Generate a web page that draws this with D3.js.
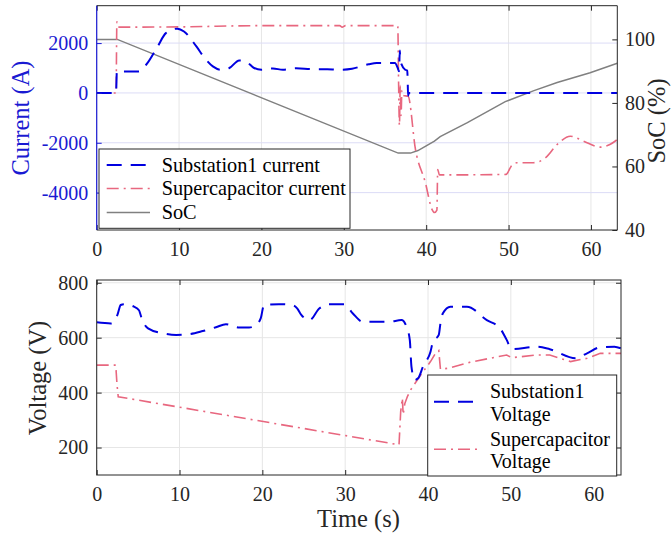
<!DOCTYPE html>
<html><head><meta charset="utf-8">
<script src="https://cdn.jsdelivr.net/npm/d3@7"></script>
<style>
body{margin:0;background:#fff}
svg{display:block}
svg text{font-family:"Liberation Serif","Times New Roman",serif !important}
</style>
</head><body>
<svg id="chart" width="671" height="539"></svg>
<script>
// ---------- data ----------
const timeTicks = [0, 10, 20, 30, 40, 50, 60];
const currentTicks = [-4000, -2000, 0, 2000];
const socTicks = [40, 60, 80, 100];
const voltageTicks = [200, 400, 600, 800];

// [time (s), current (A)]
const substationCurrent = [
  [0,0],[2.35,0],[2.45,864],[5.0,864],[6.0,1130],[7.4,1864],[8.4,2400],[9.8,2580],[10.6,2464],
  [12.1,1864],[13.1,1400],[14.1,1064],[15.1,930],[16.1,1000],[17.3,1304],[18.1,1264],[19.1,1000],
  [20,930],[21.4,980],[22.6,930],[24.2,990],[26,960],[28,950],[29.6,930],[31,970],[33,1150],[34,1200],
  [36.2,1200],[36.55,1000],[36.7,870],[36.8,1700],[36.85,1300],[37.45,930],[37.7,900],[37.75,530],
  [37.8,-110],[37.9,0],[63.2,0]
];
const supercapCurrent = [
  [0,0],[2.35,0],[2.45,2850],[2.6,2640],[10,2650],[20,2700],[29.5,2700],[29.8,2640],[30.2,2700],
  [36.55,2700],[36.65,400],[36.75,-1300],[36.85,300],[36.95,-900],[37.05,100],[37.2,-100],[37.8,-135],
  [38.7,-2270],[39.9,-3600],[40.7,-4670],[41.0,-4800],[41.3,-4700],[41.4,-3070],[41.6,-3290],
  [49.7,-3270],[50.3,-2950],[51,-2800],[53,-2800],[54.5,-2600],[55.9,-2070],[57.5,-1736],
  [59.1,-1936],[61.1,-2176],[62.3,-2070],[63.2,-1870]
];
// [time (s), SoC (%)]
const socValues = [
  [0,100],[2.5,100],[36.6,64.2],[38.1,64.2],[39,65.0],[40,66.5],[41,68.0],[41.7,69.4],[45,73.8],
  [49.6,80.4],[53,83.8],[55.9,86.4],[59.9,89.5],[63.2,92.5]
];
// [time (s), voltage (V)]
const substationVoltage = [
  [0,656],[1.7,652],[2.5,683],[2.9,719],[3.3,722],[4.5,713],[5.1,700],[5.5,664],[6.2,634],[8.0,616],
  [9.6,610],[11.2,613],[12.8,624],[14.4,638],[15.6,649],[17.2,637],[18.4,637],[19.2,646],[19.8,670],
  [20.2,719],[22.0,722],[23.6,719],[24.2,707],[24.7,683],[25.7,664],[26.9,707],[28.1,722],[29.9,722],
  [30.9,689],[32.1,658],[35.3,658],[36.8,664],[37.4,640],[37.8,592],[38.0,495],[38.4,446],[38.8,452],
  [39.4,495],[40.3,549],[40.6,585],[41.3,610],[41.5,652],[41.8,689],[42.7,713],[44.7,713],[47.1,664],
  [48.7,634],[49.5,592],[50.1,558],[53.1,567],[54.7,558],[57.8,525],[59.2,543],[60.8,565],[62.5,567],[63.3,561]
];
const supercapVoltage = [
  [0,500],[2.3,500],[2.45,430],[2.6,385],[36.5,210],[36.7,330],[36.9,380],[37.0,320],[37.2,360],
  [37.5,385],[37.9,410],[38.4,432],[39.4,476],[40.3,513],[40.9,543],[41.3,553],[41.5,485],[42.5,489],
  [45,510],[49.5,537],[50.1,527],[51,530],[53.1,537],[54.7,537],[57.2,513],[59.2,525],[60.8,543],[63.3,543]
];

// ---------- style ----------
const BLUE = "#0000e0", PINK = "#e8677f", GRAY = "#808080";
const AXIS = "#262626", AXBLUE = "#1a1ad2";
const GRIDG = "#e6e6e6", GRIDB = "#dcdcf6";
const SERIF = '"Liberation Serif","Times New Roman",serif';
const fmt = d => String(d);   // plain hyphen-minus like the reference

const svg = d3.select("#chart");

// ---------- top plot ----------
const T = {l:96.7, r:617.3, t:5.7, b:230};
const xT = d3.scaleLinear().domain([0,63.2]).range([T.l,T.r]);
const yC = d3.scaleLinear().domain([-5500,3500]).range([T.b,T.t]);
const yS = d3.scaleLinear().domain([40,110.6]).range([T.b,T.t]);

// ---------- bottom plot ----------
const B = {l:96.7, r:621, t:280, b:475};
const xB = d3.scaleLinear().domain([0,63.3]).range([B.l,B.r]);
const yV = d3.scaleLinear().domain([100,810]).range([B.b,B.t]);

function grid(g, P, xs, xticks, ys, yticks, hColor){
  g.selectAll(null).data(xticks).join("line")
    .attr("x1",d=>xs(d)).attr("x2",d=>xs(d)).attr("y1",P.t).attr("y2",P.b)
    .attr("stroke",GRIDG).attr("stroke-width",1);
  g.selectAll(null).data(yticks).join("line")
    .attr("x1",P.l).attr("x2",P.r).attr("y1",d=>ys(d)).attr("y2",d=>ys(d))
    .attr("stroke",hColor).attr("stroke-width",1);
}

const gTop = svg.append("g");
grid(gTop, T, xT, timeTicks, yC, currentTicks, GRIDB);
const gBot = svg.append("g");
grid(gBot, B, xB, timeTicks, yV, voltageTicks, GRIDG);

// clip paths
const defs = svg.append("defs");
defs.append("clipPath").attr("id","clipT").append("rect")
  .attr("x",T.l).attr("y",T.t).attr("width",T.r-T.l).attr("height",T.b-T.t);
defs.append("clipPath").attr("id","clipB").append("rect")
  .attr("x",B.l).attr("y",B.t).attr("width",B.r-B.l).attr("height",B.b-B.t);

const lineCur = d3.line().x(d=>xT(d[0])).y(d=>yC(d[1])).curve(d3.curveMonotoneX);
const lineSoc = d3.line().x(d=>xT(d[0])).y(d=>yS(d[1])).curve(d3.curveLinear);
const lineVol = d3.line().x(d=>xB(d[0])).y(d=>yV(d[1])).curve(d3.curveMonotoneX);
const lineVolLin = d3.line().x(d=>xB(d[0])).y(d=>yV(d[1])).curve(d3.curveLinear);

const DASH = "15,9", DASHDOT = "12,5,2,5";

const cT = svg.append("g").attr("clip-path","url(#clipT)");
cT.append("path").attr("d",lineSoc(socValues)).attr("fill","none").attr("stroke",GRAY).attr("stroke-width",1.5);
cT.append("path").attr("d",lineCur(supercapCurrent)).attr("fill","none").attr("stroke",PINK)
  .attr("stroke-width",1.6).attr("stroke-dasharray",DASHDOT);
cT.append("path").attr("d",lineCur(substationCurrent)).attr("fill","none").attr("stroke",BLUE)
  .attr("stroke-width",2).attr("stroke-dasharray",DASH);

const cB = svg.append("g").attr("clip-path","url(#clipB)");
cB.append("path").attr("d",lineVolLin(supercapVoltage)).attr("fill","none").attr("stroke",PINK)
  .attr("stroke-width",1.6).attr("stroke-dasharray",DASHDOT);
cB.append("path").attr("d",lineVol(substationVoltage)).attr("fill","none").attr("stroke",BLUE)
  .attr("stroke-width",2).attr("stroke-dasharray",DASH);

// ---------- axes ----------
function styleAxis(g, color, fs){
  g.attr("font-family",SERIF);
  g.select(".domain").remove();
  g.selectAll(".tick line").attr("stroke",color).attr("stroke-width",1);
  g.selectAll(".tick text").attr("fill",color).attr("font-size",fs)
    .style("font-family",SERIF);
}
const FS = "20px";
// top plot axes
styleAxis(svg.append("g").attr("transform",`translate(0,${T.b})`)
  .call(d3.axisBottom(xT).tickValues(timeTicks).tickSize(-5).tickPadding(11.5).tickFormat(fmt)), AXIS, FS);
styleAxis(svg.append("g").attr("transform",`translate(0,${T.t})`)
  .call(d3.axisTop(xT).tickValues(timeTicks).tickSize(-5).tickFormat("")), AXIS, FS);
styleAxis(svg.append("g").attr("transform",`translate(${T.l},0)`)
  .call(d3.axisLeft(yC).tickValues(currentTicks).tickSize(-5).tickPadding(8.4).tickFormat(fmt)), AXBLUE, FS);
styleAxis(svg.append("g").attr("transform",`translate(${T.r},0)`)
  .call(d3.axisRight(yS).tickValues(socTicks).tickSize(-5).tickPadding(7.7).tickFormat(fmt)), AXIS, FS);
// top frame lines
svg.append("line").attr("x1",T.l).attr("x2",T.r).attr("y1",T.t).attr("y2",T.t).attr("stroke",AXIS);
svg.append("line").attr("x1",T.l).attr("x2",T.r).attr("y1",T.b).attr("y2",T.b).attr("stroke",AXIS);
svg.append("line").attr("x1",T.r).attr("x2",T.r).attr("y1",T.t).attr("y2",T.b).attr("stroke",AXIS);
svg.append("line").attr("x1",T.l).attr("x2",T.l).attr("y1",T.t).attr("y2",T.b).attr("stroke",AXBLUE).attr("stroke-width",1.2);

// bottom plot axes
styleAxis(svg.append("g").attr("transform",`translate(0,${B.b})`)
  .call(d3.axisBottom(xB).tickValues(timeTicks).tickSize(-5).tickPadding(11.5).tickFormat(fmt)), AXIS, FS);
styleAxis(svg.append("g").attr("transform",`translate(0,${B.t})`)
  .call(d3.axisTop(xB).tickValues(timeTicks).tickSize(-5).tickFormat("")), AXIS, FS);
styleAxis(svg.append("g").attr("transform",`translate(${B.l},0)`)
  .call(d3.axisLeft(yV).tickValues(voltageTicks).tickSize(-5).tickPadding(8.4).tickFormat(fmt)), AXIS, FS);
styleAxis(svg.append("g").attr("transform",`translate(${B.r},0)`)
  .call(d3.axisRight(yV).tickValues(voltageTicks).tickSize(-5).tickFormat("")), AXIS, FS);
svg.append("rect").attr("x",B.l).attr("y",B.t).attr("width",B.r-B.l).attr("height",B.b-B.t)
  .attr("fill","none").attr("stroke",AXIS).attr("stroke-width",1);

// axis labels
const LFS = "24.5px";
svg.append("text").attr("transform",`translate(29,118) rotate(-90)`).attr("text-anchor","middle")
  .attr("font-size",LFS).attr("fill",AXBLUE).text("Current (A)");
svg.append("text").attr("transform",`translate(664.5,121) rotate(-90)`).attr("text-anchor","middle")
  .attr("font-size",LFS).attr("fill",AXIS).text("SoC (%)");
svg.append("text").attr("transform",`translate(46,378) rotate(-90)`).attr("text-anchor","middle")
  .attr("font-size",LFS).attr("fill",AXIS).text("Voltage (V)");
svg.append("text").attr("x",358.5).attr("y",527).attr("text-anchor","middle")
  .attr("font-size",LFS).attr("fill",AXIS).text("Time (s)");

// ---------- legends ----------
const legTop = [
  {label:"Substation1 current", color:BLUE, dash:DASH, w:2},
  {label:"Supercapacitor current", color:PINK, dash:DASHDOT, w:1.6},
  {label:"SoC", color:GRAY, dash:null, w:1.5}
];
const lt = svg.append("g");
lt.append("rect").attr("x",99).attr("y",149).attr("width",251).attr("height",79.3)
  .attr("fill","#fff").attr("stroke",AXIS).attr("stroke-width",1);
const ltRows = [165, 188.5, 212.5];
legTop.forEach((d,i)=>{
  lt.append("line").attr("x1",106.7).attr("x2",150).attr("y1",ltRows[i]).attr("y2",ltRows[i])
    .attr("stroke",d.color).attr("stroke-width",d.w).attr("stroke-dasharray",d.dash);
  lt.append("text").attr("x",161.7).attr("y",ltRows[i]).attr("dy","0.33em")
    .attr("font-size","20.3px").attr("fill","#000").text(d.label);
});

const legBot = [
  {lines:["Substation1","Voltage"], color:BLUE, dash:DASH, w:2},
  {lines:["Supercapacitor","Voltage"], color:PINK, dash:DASHDOT, w:1.6}
];
const lb = svg.append("g");
lb.append("rect").attr("x",427.7).attr("y",375).attr("width",189).attr("height",101)
  .attr("fill","#fff").attr("stroke",AXIS).attr("stroke-width",1);
const lbRows = [[391.7,414],[439.3,461.7]];
const lbLine = [401.7, 449.3];
legBot.forEach((d,i)=>{
  lb.append("line").attr("x1",434).attr("x2",478).attr("y1",lbLine[i]).attr("y2",lbLine[i])
    .attr("stroke",d.color).attr("stroke-width",d.w).attr("stroke-dasharray",d.dash);
  d.lines.forEach((s,j)=>{
    lb.append("text").attr("x",490).attr("y",lbRows[i][j]).attr("dy","0.33em")
      .attr("font-size","20px").attr("fill","#000").text(s);
  });
});
</script>
</body></html>
